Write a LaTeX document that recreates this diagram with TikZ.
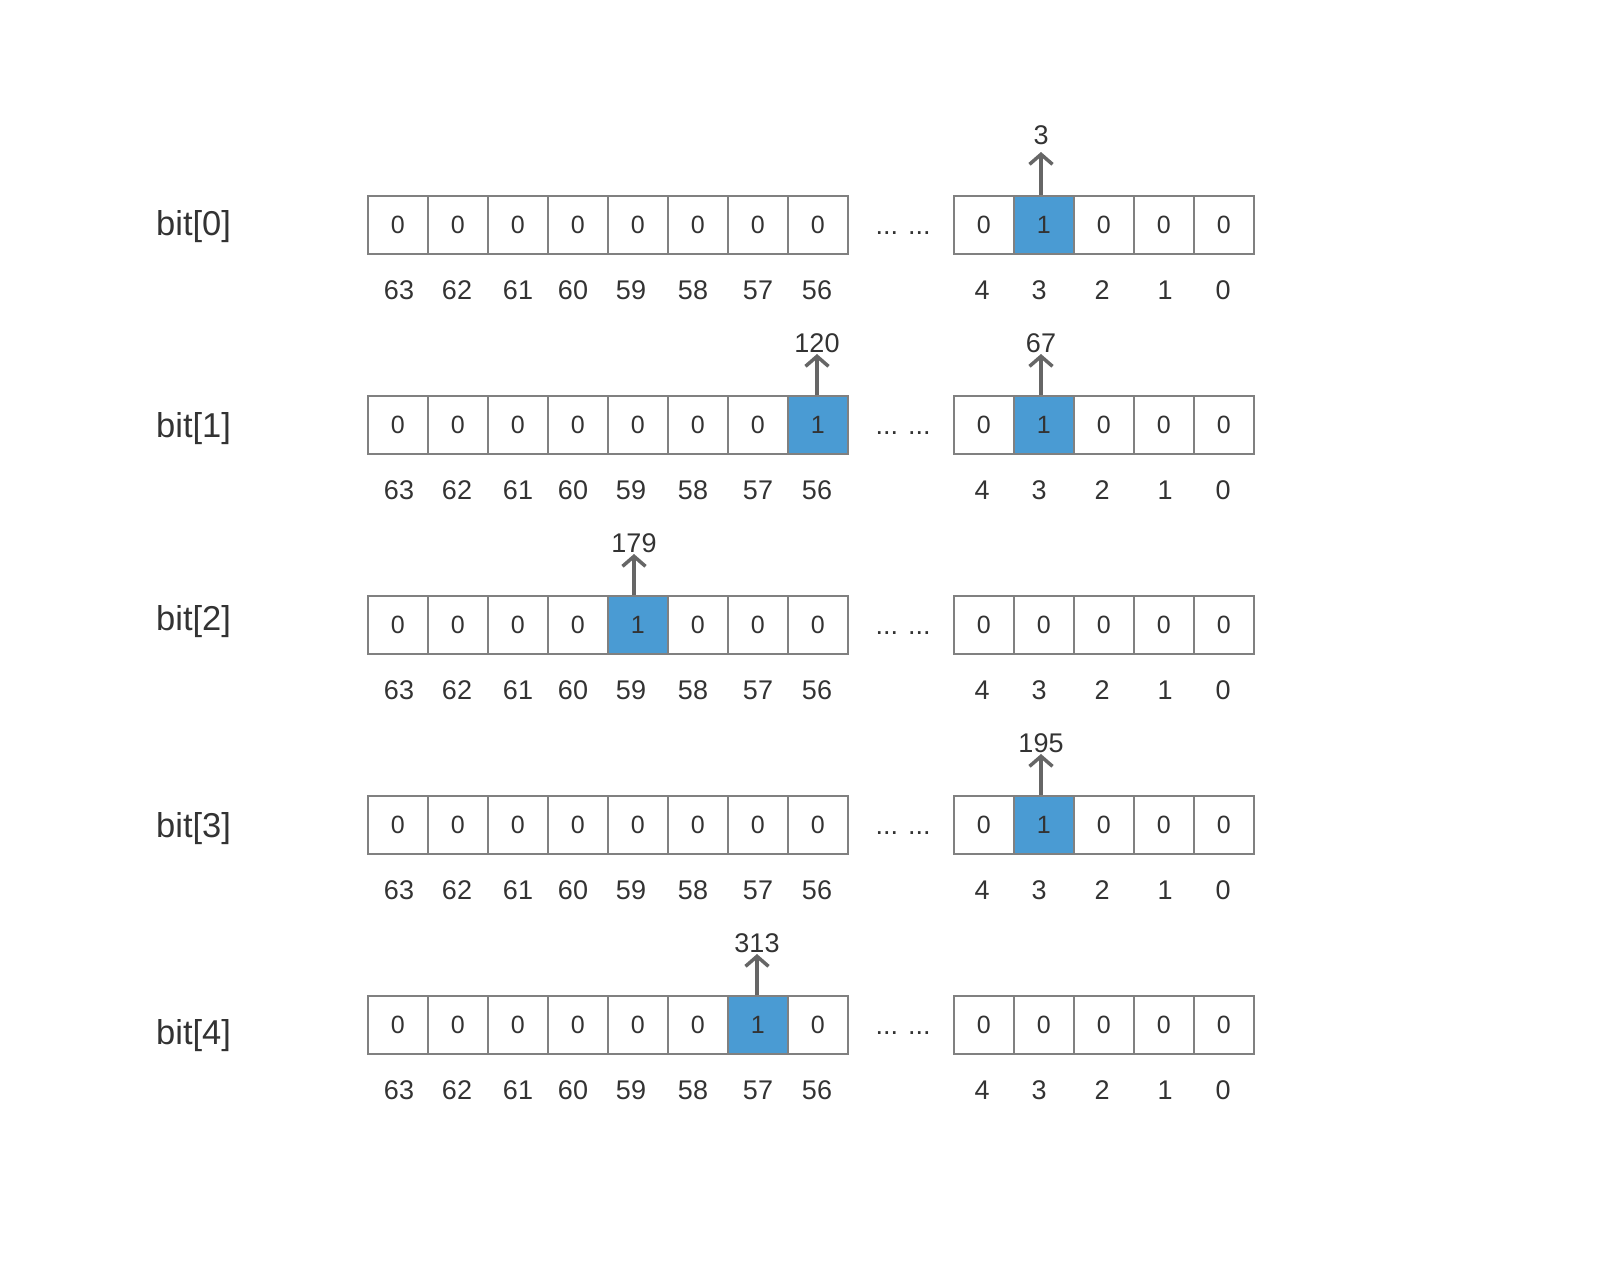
\documentclass[tikz,border=0pt]{standalone}
\usepackage{fontspec}
\setmainfont{Liberation Sans}
\usetikzlibrary{arrows.meta}
\definecolor{cellline}{HTML}{808080}
\definecolor{cellblue}{HTML}{4A9BD3}
\definecolor{txt}{HTML}{333333}
\definecolor{arr}{HTML}{666666}
\tikzset{
  cell/.style={draw=cellline, line width=1.5pt, minimum width=60pt, minimum height=58pt,
    inner sep=0pt, anchor=north west, font=\fontsize{25}{30}\selectfont, text=txt},
  idx/.style={font=\fontsize{27}{32}\selectfont, text=txt},
  rowlabel/.style={font=\fontsize{34.5}{40}\selectfont, text=txt, anchor=west, inner sep=0pt},
  ptr/.style={draw=arr, line width=3.5pt, -{Straight Barb[length=10pt,width=23pt,line width=3.5pt]}},
  val/.style={font=\fontsize{27}{32}\selectfont, text=txt},
  dotsep/.style={font=\fontsize{27}{32}\selectfont, text=txt},
}
\begin{document}
\begin{tikzpicture}[x=1pt,y=-1pt]
\useasboundingbox (0,0) rectangle (1600,1274);
\foreach \r/\ls/\rs/\ly in {0/-1/1/227,1/7/1/429,2/4/-1/622,3/-1/1/829,4/6/-1/1036}{
  \pgfmathsetmacro\rowtop{195+200*\r}
  \node[rowlabel] (lab\r) at (156,\ly) {bit[\r]};
  \foreach \i in {0,...,7}{
    \ifnum\i=\ls \def\fc{cellblue}\def\bv{1}\else\def\fc{white}\def\bv{0}\fi
    \node[cell, fill=\fc] (L\r-\i) at ({367+60*\i},\rowtop) {\bv};
  }
  \foreach \i in {0,...,4}{
    \ifnum\i=\rs \def\fc{cellblue}\def\bv{1}\else\def\fc{white}\def\bv{0}\fi
    \node[cell, fill=\fc] (R\r-\i) at ({953+60*\i},\rowtop) {\bv};
  }
  \node[dotsep] (d\r) at (903,{\rowtop+38}) {... ...};
  \foreach \n/\x in {63/399,62/457,61/518,60/573,59/631,58/693,57/758,56/817,4/982,3/1039,2/1102,1/1165,0/1223}{
    \node[idx] (i\r-\n) at (\x,{\rowtop+95}) {\n};
  }
}
% pointers
\coordinate (t0) at (1041,152);
\draw[ptr] (R0-1.north -| t0) -- (t0);
\node[val] (v0) at (1041,135) {3};

\coordinate (t1a) at (817,354);
\draw[ptr] (L1-7.north -| t1a) -- (t1a);
\node[val] (v1a) at (817,343) {120};
\coordinate (t1b) at (1041,354);
\draw[ptr] (R1-1.north -| t1b) -- (t1b);
\node[val] (v1b) at (1041,343) {67};

\coordinate (t2) at (634,554);
\draw[ptr] (L2-4.north -| t2) -- (t2);
\node[val] (v2) at (634,543) {179};

\coordinate (t3) at (1041,754);
\draw[ptr] (R3-1.north -| t3) -- (t3);
\node[val] (v3) at (1041,743) {195};

\coordinate (t4) at (757,954);
\draw[ptr] (L4-6.north -| t4) -- (t4);
\node[val] (v4) at (757,943) {313};
\end{tikzpicture}
\end{document}
